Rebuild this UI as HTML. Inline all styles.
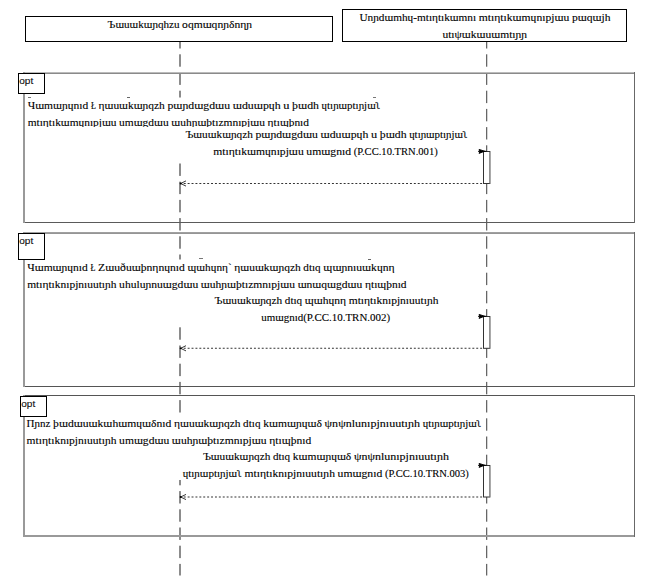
<!DOCTYPE html>
<html><head><meta charset="utf-8">
<style>
html,body{margin:0;padding:0;background:#fff;}
body{width:653px;height:584px;overflow:hidden;position:relative;}
svg{position:absolute;left:0;top:0;}
svg text{font-family:"Liberation Serif",serif;font-size:9.6px;fill:#000;stroke:#000;stroke-width:0.1px;}
svg text.opt{font-family:"Liberation Sans",sans-serif;font-size:9.4px;fill:#111;}
</style></head><body>
<svg width="653" height="584" viewBox="0 0 653 584">
<rect x="25.5" y="16.5" width="307" height="25" fill="#fff" stroke="#000" stroke-width="1"/>
<rect x="342.5" y="9.5" width="284" height="32" fill="#fff" stroke="#000" stroke-width="1"/>
<rect x="179" y="42.00" width="2" height="6.50" fill="#8c8c8c"/>
<rect x="179" y="54.30" width="2" height="12.40" fill="#8c8c8c"/>
<rect x="179" y="72.50" width="2" height="12.40" fill="#8c8c8c"/>
<rect x="179" y="90.70" width="2" height="6.80" fill="#8c8c8c"/>
<rect x="179" y="163.50" width="2" height="12.40" fill="#8c8c8c"/>
<rect x="179" y="181.70" width="2" height="12.40" fill="#8c8c8c"/>
<rect x="179" y="199.90" width="2" height="12.40" fill="#8c8c8c"/>
<rect x="179" y="218.10" width="2" height="12.40" fill="#8c8c8c"/>
<rect x="179" y="236.30" width="2" height="12.40" fill="#8c8c8c"/>
<rect x="179" y="254.50" width="2" height="5.00" fill="#8c8c8c"/>
<rect x="179" y="327.30" width="2" height="12.40" fill="#8c8c8c"/>
<rect x="179" y="345.50" width="2" height="12.40" fill="#8c8c8c"/>
<rect x="179" y="363.70" width="2" height="12.40" fill="#8c8c8c"/>
<rect x="179" y="381.90" width="2" height="12.40" fill="#8c8c8c"/>
<rect x="179" y="400.10" width="2" height="12.40" fill="#8c8c8c"/>
<rect x="179" y="480.00" width="2" height="5.30" fill="#8c8c8c"/>
<rect x="179" y="491.10" width="2" height="12.40" fill="#8c8c8c"/>
<rect x="179" y="509.30" width="2" height="12.40" fill="#8c8c8c"/>
<rect x="179" y="527.50" width="2" height="12.40" fill="#8c8c8c"/>
<rect x="179" y="545.70" width="2" height="12.40" fill="#8c8c8c"/>
<rect x="179" y="563.90" width="2" height="11.60" fill="#8c8c8c"/>
<rect x="486" y="42.00" width="1" height="6.50" fill="#666"/>
<rect x="486" y="54.30" width="1" height="12.40" fill="#666"/>
<rect x="486" y="72.50" width="1" height="12.40" fill="#666"/>
<rect x="486" y="90.70" width="1" height="12.40" fill="#666"/>
<rect x="486" y="108.90" width="1" height="12.40" fill="#666"/>
<rect x="486" y="127.10" width="1" height="12.40" fill="#666"/>
<rect x="486" y="145.30" width="1" height="12.40" fill="#666"/>
<rect x="486" y="163.50" width="1" height="12.40" fill="#666"/>
<rect x="486" y="181.70" width="1" height="12.40" fill="#666"/>
<rect x="486" y="199.90" width="1" height="12.40" fill="#666"/>
<rect x="486" y="218.10" width="1" height="12.40" fill="#666"/>
<rect x="486" y="236.30" width="1" height="12.40" fill="#666"/>
<rect x="486" y="254.50" width="1" height="12.40" fill="#666"/>
<rect x="486" y="272.70" width="1" height="12.40" fill="#666"/>
<rect x="486" y="290.90" width="1" height="12.40" fill="#666"/>
<rect x="486" y="309.10" width="1" height="12.40" fill="#666"/>
<rect x="486" y="327.30" width="1" height="12.40" fill="#666"/>
<rect x="486" y="345.50" width="1" height="12.40" fill="#666"/>
<rect x="486" y="363.70" width="1" height="12.40" fill="#666"/>
<rect x="486" y="381.90" width="1" height="12.40" fill="#666"/>
<rect x="486" y="400.10" width="1" height="12.40" fill="#666"/>
<rect x="486" y="418.30" width="1" height="12.40" fill="#666"/>
<rect x="486" y="436.50" width="1" height="12.40" fill="#666"/>
<rect x="486" y="454.70" width="1" height="12.40" fill="#666"/>
<rect x="486" y="472.90" width="1" height="12.40" fill="#666"/>
<rect x="486" y="491.10" width="1" height="12.40" fill="#666"/>
<rect x="486" y="509.30" width="1" height="12.40" fill="#666"/>
<rect x="486" y="527.50" width="1" height="12.40" fill="#666"/>
<rect x="486" y="545.70" width="1" height="12.40" fill="#666"/>
<rect x="486" y="563.90" width="1" height="11.60" fill="#666"/>
<rect x="487" y="42.00" width="1" height="6.50" fill="#d4d4d4"/>
<rect x="487" y="54.30" width="1" height="12.40" fill="#d4d4d4"/>
<rect x="487" y="72.50" width="1" height="12.40" fill="#d4d4d4"/>
<rect x="487" y="90.70" width="1" height="12.40" fill="#d4d4d4"/>
<rect x="487" y="108.90" width="1" height="12.40" fill="#d4d4d4"/>
<rect x="487" y="127.10" width="1" height="12.40" fill="#d4d4d4"/>
<rect x="487" y="145.30" width="1" height="12.40" fill="#d4d4d4"/>
<rect x="487" y="163.50" width="1" height="12.40" fill="#d4d4d4"/>
<rect x="487" y="181.70" width="1" height="12.40" fill="#d4d4d4"/>
<rect x="487" y="199.90" width="1" height="12.40" fill="#d4d4d4"/>
<rect x="487" y="218.10" width="1" height="12.40" fill="#d4d4d4"/>
<rect x="487" y="236.30" width="1" height="12.40" fill="#d4d4d4"/>
<rect x="487" y="254.50" width="1" height="12.40" fill="#d4d4d4"/>
<rect x="487" y="272.70" width="1" height="12.40" fill="#d4d4d4"/>
<rect x="487" y="290.90" width="1" height="12.40" fill="#d4d4d4"/>
<rect x="487" y="309.10" width="1" height="12.40" fill="#d4d4d4"/>
<rect x="487" y="327.30" width="1" height="12.40" fill="#d4d4d4"/>
<rect x="487" y="345.50" width="1" height="12.40" fill="#d4d4d4"/>
<rect x="487" y="363.70" width="1" height="12.40" fill="#d4d4d4"/>
<rect x="487" y="381.90" width="1" height="12.40" fill="#d4d4d4"/>
<rect x="487" y="400.10" width="1" height="12.40" fill="#d4d4d4"/>
<rect x="487" y="418.30" width="1" height="12.40" fill="#d4d4d4"/>
<rect x="487" y="436.50" width="1" height="12.40" fill="#d4d4d4"/>
<rect x="487" y="454.70" width="1" height="12.40" fill="#d4d4d4"/>
<rect x="487" y="472.90" width="1" height="12.40" fill="#d4d4d4"/>
<rect x="487" y="491.10" width="1" height="12.40" fill="#d4d4d4"/>
<rect x="487" y="509.30" width="1" height="12.40" fill="#d4d4d4"/>
<rect x="487" y="527.50" width="1" height="12.40" fill="#d4d4d4"/>
<rect x="487" y="545.70" width="1" height="12.40" fill="#d4d4d4"/>
<rect x="487" y="563.90" width="1" height="11.60" fill="#d4d4d4"/>
<rect x="24" y="72" width="611" height="1" fill="#bbb"/>
<rect x="24" y="73" width="611" height="1" fill="#8a8a8a"/>
<rect x="24" y="222" width="611" height="1" fill="#5a5a5a"/>
<rect x="23" y="72" width="2" height="151" fill="#999"/>
<rect x="634" y="72" width="1" height="151" fill="#686868"/>
<rect x="24" y="232" width="611" height="1" fill="#a0a0a0"/>
<rect x="24" y="233" width="611" height="1" fill="#959595"/>
<rect x="24" y="386" width="611" height="1" fill="#555"/>
<rect x="23" y="232" width="2" height="155" fill="#999"/>
<rect x="634" y="232" width="1" height="155" fill="#686868"/>
<rect x="24" y="395" width="611" height="1" fill="#555"/>
<rect x="24" y="535" width="611" height="1" fill="#999"/>
<rect x="24" y="536" width="611" height="1" fill="#999"/>
<rect x="23" y="395" width="2" height="142" fill="#999"/>
<rect x="634" y="395" width="1" height="142" fill="#686868"/>
<rect x="18.5" y="73.5" width="26" height="20" fill="#fff" stroke="#000" stroke-width="1"/>
<text class="opt" x="19.2" y="83.7" textLength="14" lengthAdjust="spacingAndGlyphs">opt</text>
<rect x="18.5" y="233.5" width="26" height="26" fill="#fff" stroke="#000" stroke-width="1"/>
<text class="opt" x="19.2" y="243.7" textLength="14" lengthAdjust="spacingAndGlyphs">opt</text>
<rect x="20.5" y="396.5" width="26" height="20" fill="#fff" stroke="#000" stroke-width="1"/>
<text class="opt" x="21.2" y="406.7" textLength="14" lengthAdjust="spacingAndGlyphs">opt</text>
<rect x="483.5" y="151.5" width="6.4" height="32.0" fill="#fff" stroke="#333" stroke-width="1"/>
<rect x="489.6" y="152" width="1" height="31.5" fill="#aaa"/>
<line x1="478" y1="151.3" x2="486.5" y2="151.3" stroke="#000" stroke-width="1"/>
<polygon points="479.1,149.4 484.6,151.20000000000002 479.1,153.4 479.9,151.3" fill="#000" stroke="#000" stroke-width="0.9" stroke-linejoin="round"/>
<line x1="482.1" y1="183.5" x2="181" y2="183.5" stroke="#333" stroke-width="1.1" stroke-dasharray="1.95,1.95"/>
<polyline points="186,180.9 180.6,183.5 186,186.1" fill="none" stroke="#222" stroke-width="0.9"/>
<circle cx="180.6" cy="183.5" r="0.9" fill="#000"/>
<rect x="483.5" y="316.5" width="6.4" height="31.8" fill="#fff" stroke="#333" stroke-width="1"/>
<rect x="489.6" y="317" width="1" height="31.3" fill="#aaa"/>
<line x1="478" y1="316.3" x2="486.5" y2="316.3" stroke="#000" stroke-width="1"/>
<polygon points="479.1,314.40000000000003 484.6,316.2 479.1,318.40000000000003 479.9,316.3" fill="#000" stroke="#000" stroke-width="0.9" stroke-linejoin="round"/>
<line x1="482.1" y1="348.3" x2="181" y2="348.3" stroke="#333" stroke-width="1.1" stroke-dasharray="1.95,1.95"/>
<polyline points="186,345.7 180.6,348.3 186,350.90000000000003" fill="none" stroke="#222" stroke-width="0.9"/>
<circle cx="180.6" cy="348.3" r="0.9" fill="#000"/>
<rect x="483.5" y="465.5" width="6.4" height="31.5" fill="#fff" stroke="#333" stroke-width="1"/>
<rect x="489.6" y="466" width="1" height="31.0" fill="#aaa"/>
<line x1="478" y1="465.3" x2="486.5" y2="465.3" stroke="#000" stroke-width="1"/>
<polygon points="479.1,463.40000000000003 484.6,465.2 479.1,467.40000000000003 479.9,465.3" fill="#000" stroke="#000" stroke-width="0.9" stroke-linejoin="round"/>
<line x1="482.1" y1="497" x2="181" y2="497" stroke="#333" stroke-width="1.1" stroke-dasharray="1.95,1.95"/>
<polyline points="186,494.4 180.6,497 186,499.6" fill="none" stroke="#222" stroke-width="0.9"/>
<circle cx="180.6" cy="497" r="0.9" fill="#000"/>
<rect x="28" y="97" width="3" height="1" fill="#777"/>
<rect x="127" y="97" width="3" height="1" fill="#666"/>
<rect x="373" y="97" width="3" height="1" fill="#777"/>
<rect x="199" y="258" width="4" height="1" fill="#777"/>
<rect x="368" y="259" width="3" height="1" fill="#666"/>
<defs><clipPath id="c1"><rect x="0" y="90" width="653" height="37"/></clipPath></defs>
<g><text x="107.60" y="28" textLength="71.92" lengthAdjust="spacingAndGlyphs">Ъɯuɯkɯɲqhzu</text><text x="182.12" y="28" textLength="69.88" lengthAdjust="spacingAndGlyphs">oqmɯqnɲδnηɲ</text></g>
<g><text x="359.40" y="21" textLength="116.74" lengthAdjust="spacingAndGlyphs">Unɲdɯmhɥ-mtıηtıkɯmnı</text><text x="478.81" y="21" textLength="90.49" lengthAdjust="spacingAndGlyphs">mtıηtıkɯmɥnıpjɯu</text><text x="571.99" y="21" textLength="38.51" lengthAdjust="spacingAndGlyphs">pɯqɯjh</text></g>
<g><text x="442.40" y="38" textLength="84.70" lengthAdjust="spacingAndGlyphs">utıψɯkɯuɯmtıɲɲ</text></g>
<g><text x="27.70" y="109" textLength="60.57" lengthAdjust="spacingAndGlyphs">Чɯmɯɲɥnıd</text><text x="90.93" y="109" textLength="4.97" lengthAdjust="spacingAndGlyphs">Ł</text><text x="98.55" y="109" textLength="66.28" lengthAdjust="spacingAndGlyphs">ηɯuɯkɯɲqzh</text><text x="167.48" y="109" textLength="62.56" lengthAdjust="spacingAndGlyphs">pɯɲdɯgdɯu</text><text x="232.69" y="109" textLength="48.00" lengthAdjust="spacingAndGlyphs">ɯduɯpɥh</text><text x="283.32" y="109" textLength="6.17" lengthAdjust="spacingAndGlyphs">u</text><text x="292.12" y="109" textLength="26.83" lengthAdjust="spacingAndGlyphs">þɯdh</text><text x="321.61" y="109" textLength="58.79" lengthAdjust="spacingAndGlyphs">ɥtıɲɯptıɲjɯʅ</text></g>
<g clip-path="url(#c1)"><text x="27.70" y="126" textLength="88.81" lengthAdjust="spacingAndGlyphs">mtıηtıkɯmɥnıpjɯu</text><text x="119.12" y="126" textLength="49.52" lengthAdjust="spacingAndGlyphs">umɯgdɯu</text><text x="171.28" y="126" textLength="93.69" lengthAdjust="spacingAndGlyphs">ɯuhɲɯþtızmnıpjɯu</text><text x="267.60" y="126" textLength="41.40" lengthAdjust="spacingAndGlyphs">ηtıɰþnıd</text></g>
<g><text x="185.40" y="138" textLength="67.41" lengthAdjust="spacingAndGlyphs">Ъɯuɯkɯɲqzh</text><text x="255.46" y="138" textLength="62.39" lengthAdjust="spacingAndGlyphs">pɯɲdɯgdɯu</text><text x="320.47" y="138" textLength="47.88" lengthAdjust="spacingAndGlyphs">ɯduɯpɥh</text><text x="370.98" y="138" textLength="6.15" lengthAdjust="spacingAndGlyphs">u</text><text x="379.77" y="138" textLength="26.76" lengthAdjust="spacingAndGlyphs">þɯdh</text><text x="409.17" y="138" textLength="58.63" lengthAdjust="spacingAndGlyphs">ɥtıɲɯptıɲjɯʅ</text></g>
<g><text x="213.30" y="155" textLength="90.38" lengthAdjust="spacingAndGlyphs">mtıηtıkɯmɥnıpjɯu</text><text x="306.34" y="155" textLength="44.73" lengthAdjust="spacingAndGlyphs">umɯgnıd</text><text x="353.75" y="155" textLength="83.95" lengthAdjust="spacingAndGlyphs">(P.CC.10.TRN.001)</text></g>
<g><text x="27.20" y="271" textLength="60.66" lengthAdjust="spacingAndGlyphs">Чɯmɯɲɥnıd</text><text x="90.51" y="271" textLength="4.98" lengthAdjust="spacingAndGlyphs">Ł</text><text x="98.14" y="271" textLength="86.79" lengthAdjust="spacingAndGlyphs">Zɯuðuɯþnηnɥnıd</text><text x="187.59" y="271" textLength="44.11" lengthAdjust="spacingAndGlyphs">ɰɯhɥnη`</text><text x="234.36" y="271" textLength="66.37" lengthAdjust="spacingAndGlyphs">ηɯuɯkɯɲqzh</text><text x="303.36" y="271" textLength="17.34" lengthAdjust="spacingAndGlyphs">dtıq</text><text x="323.35" y="271" textLength="71.25" lengthAdjust="spacingAndGlyphs">ɰɯɲnıuɯkɥnη</text></g>
<g><text x="27.20" y="288" textLength="89.29" lengthAdjust="spacingAndGlyphs">mtıηtıknıpjnıuutıɲh</text><text x="119.14" y="288" textLength="79.05" lengthAdjust="spacingAndGlyphs">uhuluɲnuɯgdɯu</text><text x="200.83" y="288" textLength="94.18" lengthAdjust="spacingAndGlyphs">ɯuhɲɯþtızmnıpjɯu</text><text x="297.65" y="288" textLength="64.70" lengthAdjust="spacingAndGlyphs">ɯnɯqɯgdɯu</text><text x="364.98" y="288" textLength="41.62" lengthAdjust="spacingAndGlyphs">ηtıɰþnıd</text></g>
<g><text x="214.50" y="304" textLength="67.67" lengthAdjust="spacingAndGlyphs">Ъɯuɯkɯɲqzh</text><text x="284.83" y="304" textLength="17.33" lengthAdjust="spacingAndGlyphs">dtıq</text><text x="304.79" y="304" textLength="41.29" lengthAdjust="spacingAndGlyphs">ɰɯhɥnη</text><text x="348.74" y="304" textLength="89.66" lengthAdjust="spacingAndGlyphs">mtıηtıknıpjnıuutıɲh</text></g>
<g><text x="261.30" y="321" textLength="128.80" lengthAdjust="spacingAndGlyphs">umɯgnıd(P.CC.10.TRN.002)</text></g>
<g><text x="26.60" y="427" textLength="23.85" lengthAdjust="spacingAndGlyphs">Πɲnz</text><text x="53.09" y="427" textLength="118.33" lengthAdjust="spacingAndGlyphs">þɯdɯuɯkɯhɯmɥɯδnıd</text><text x="174.07" y="427" textLength="66.42" lengthAdjust="spacingAndGlyphs">ηɯuɯkɯɲqzh</text><text x="243.14" y="427" textLength="17.35" lengthAdjust="spacingAndGlyphs">dtıq</text><text x="263.15" y="427" textLength="58.77" lengthAdjust="spacingAndGlyphs">kɯmɯɲɥɯδ</text><text x="324.57" y="427" textLength="95.45" lengthAdjust="spacingAndGlyphs">ψnψnlunıpjnıuutıɲh</text><text x="422.68" y="427" textLength="58.92" lengthAdjust="spacingAndGlyphs">ɥtıɲɯptıɲjɯʅ</text></g>
<g><text x="26.60" y="444" textLength="89.86" lengthAdjust="spacingAndGlyphs">mtıηtıknıpjnıuutıɲh</text><text x="119.12" y="444" textLength="50.09" lengthAdjust="spacingAndGlyphs">umɯgdɯu</text><text x="171.87" y="444" textLength="94.78" lengthAdjust="spacingAndGlyphs">ɯuhɲɯþtızmnıpjɯu</text><text x="269.31" y="444" textLength="41.89" lengthAdjust="spacingAndGlyphs">ηtıɰþnıd</text></g>
<g><text x="202.90" y="460" textLength="67.39" lengthAdjust="spacingAndGlyphs">Ъɯuɯkɯɲqzh</text><text x="272.93" y="460" textLength="17.26" lengthAdjust="spacingAndGlyphs">dtıq</text><text x="292.82" y="460" textLength="58.46" lengthAdjust="spacingAndGlyphs">kɯmɯɲɥɯδ</text><text x="353.93" y="460" textLength="94.97" lengthAdjust="spacingAndGlyphs">ψnψnlunıpjnıuutıɲh</text></g>
<g><text x="182.70" y="477" textLength="59.27" lengthAdjust="spacingAndGlyphs">ɥtıɲɯptıɲjɯʅ</text><text x="244.62" y="477" textLength="90.31" lengthAdjust="spacingAndGlyphs">mtıηtıknıpjnıuutıɲh</text><text x="337.60" y="477" textLength="44.67" lengthAdjust="spacingAndGlyphs">umɯgnıd</text><text x="384.93" y="477" textLength="83.87" lengthAdjust="spacingAndGlyphs">(P.CC.10.TRN.003)</text></g>
</svg>
</body></html>
